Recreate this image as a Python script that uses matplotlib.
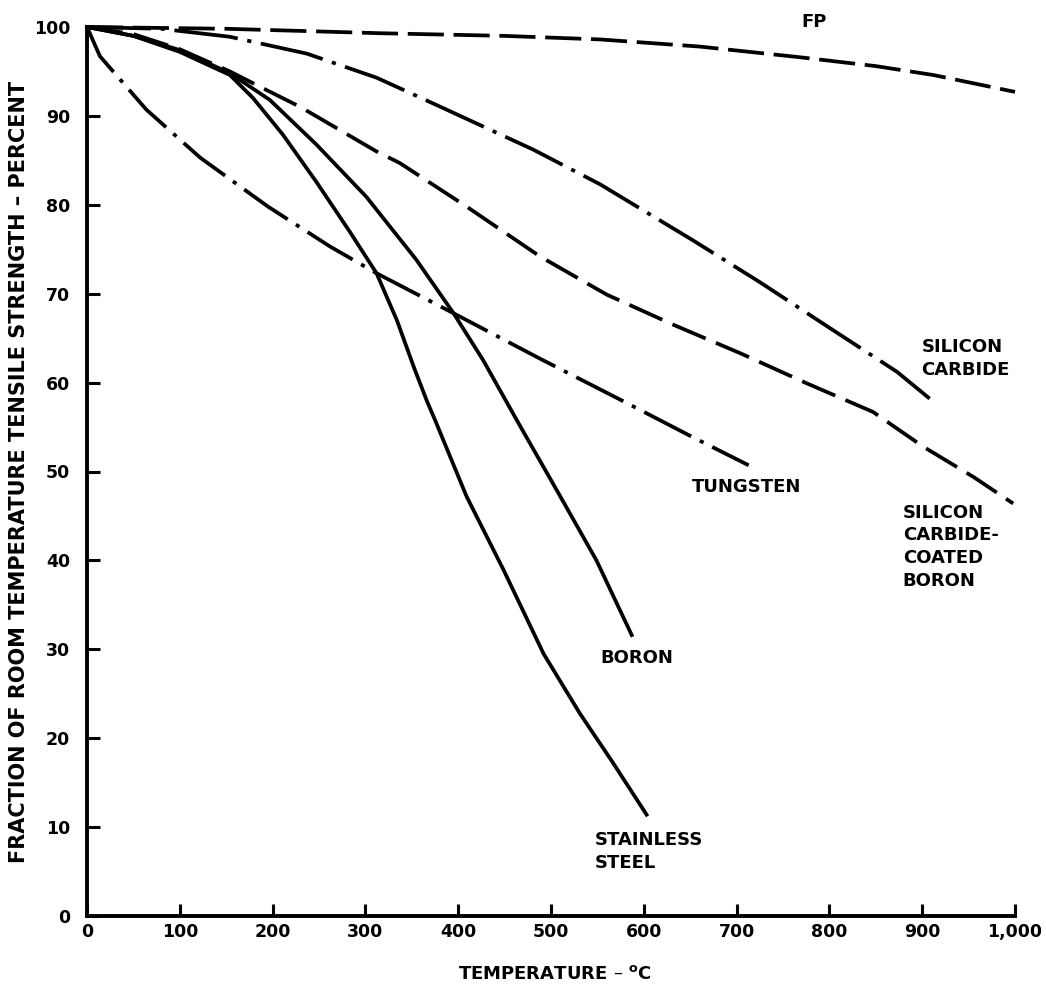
import matplotlib
matplotlib.use("Agg")
import matplotlib.pyplot as plt

plt.rcParams["lines.scale_dashes"] = False
plt.rcParams["font.family"] = ["DejaVu Sans"]

# temperature (deg C) / percent of room-temperature strength
fp_t = [0, 150, 316, 450, 553, 660, 768, 850, 912, 1000]
fp_v = [100, 99.8, 99.3, 99.0, 98.6, 97.8, 96.6, 95.6, 94.6, 92.7]

sic_t = [0, 80, 154, 237, 312, 373, 481, 553, 653, 725, 801, 873, 908]
sic_v = [100, 99.8, 98.9, 97.0, 94.3, 91.4, 86.2, 82.3, 76.0, 71.3, 66.1, 61.2, 58.2]

scb_t = [0, 50, 100, 154, 186, 230, 312, 337, 409, 488, 560, 632, 704, 776, 847, 901, 955,
         998]
scb_v = [100, 99.2, 97.5, 95.0, 93.3, 91.0, 86.0, 84.7, 79.8, 74.2, 69.9, 66.5, 63.3, 59.9,
         56.7, 52.8, 49.4, 46.4]

w_t = [0, 14, 64, 122, 195, 262, 312, 395, 488, 578, 652, 713]
w_v = [100, 96.7, 90.7, 85.3, 79.8, 75.3, 72.3, 67.8, 62.7, 57.9, 53.9, 50.7]

boron_t = [0, 50, 100, 154, 197, 247, 301, 355, 395, 427, 463, 510, 549, 587]
boron_v = [100, 99.0, 97.4, 94.8, 91.8, 86.8, 80.9, 73.8, 67.8, 62.5, 55.8, 47.2, 40.0, 31.6]

ss_t = [0, 50, 100, 154, 179, 211, 247, 283, 312, 334, 352, 366, 375, 409, 449, 492, 531,
        567, 603]
ss_v = [100, 99.0, 97.2, 94.6, 92.0, 87.9, 82.6, 77.0, 72.3, 67.0, 61.8, 58.0, 55.8, 47.2,
        38.9, 29.5, 22.8, 17.2, 11.4]

x_ticks = list(range(0, 1001, 100))
x_labels = ["0", "100", "200", "300", "400", "500", "600", "700", "800", "900", "1,000"]
y_ticks = list(range(0, 101, 10))

fig = plt.figure(figsize=(10.46, 9.93), dpi=100)
ax = fig.add_axes([87 / 1046, 77 / 993, 928 / 1046, 889 / 993])

lw = 2.7
ax.plot(fp_t, fp_v, color="black", lw=lw, ls=(0, (26, 7)), clip_on=False)
ax.plot(sic_t, sic_v, color="black", lw=lw, ls=(0, (46, 7, 3, 7)), clip_on=False)
ax.plot(scb_t, scb_v, color="black", lw=lw, ls=(0, (26, 8)), clip_on=False)
ax.plot(w_t, w_v, color="black", lw=lw, ls=(0, (38, 7, 3, 7)), clip_on=False)
ax.plot(boron_t, boron_v, color="black", lw=lw, clip_on=False)
ax.plot(ss_t, ss_v, color="black", lw=lw, clip_on=False)

lab = dict(fontsize=13, fontweight="bold", color="black", linespacing=1.35)
ax.text(784, 100.6, "FP", ha="center", va="center", **lab)
ax.text(899, 65.0, "SILICON\nCARBIDE", ha="left", va="top", **lab)
ax.text(652, 48.3, "TUNGSTEN", ha="left", va="center", **lab)
ax.text(879, 46.4, "SILICON\nCARBIDE-\nCOATED\nBORON", ha="left", va="top", **lab)
ax.text(553, 29.0, "BORON", ha="left", va="center", **lab)
ax.text(547, 9.6, "STAINLESS\nSTEEL", ha="left", va="top", **lab)

ax.set_xlim(0, 1000)
ax.set_ylim(0, 100)
ax.set_xticks(x_ticks)
ax.set_xticklabels(x_labels)
ax.set_yticks(y_ticks)
for s in ["top", "right"]:
    ax.spines[s].set_visible(False)
for s in ["left", "bottom"]:
    ax.spines[s].set_linewidth(2.8)
ax.tick_params(direction="in", length=9, width=2.2, labelsize=12.5)
ax.tick_params(axis="y", pad=12)
ax.tick_params(axis="x", pad=5)
for t in ax.get_xticklabels() + ax.get_yticklabels():
    t.set_fontweight("bold")

ax.set_ylabel("FRACTION OF ROOM TEMPERATURE TENSILE STRENGTH \u2013 PERCENT",
              fontsize=15, fontweight="bold")
ax.set_xlabel("TEMPERATURE \u2013 $^{\\mathbf{o}}$C", fontsize=13, fontweight="bold")
ax.yaxis.set_label_coords(-0.062, 0.5)
ax.xaxis.set_label_coords(0.504, -0.055)

fig.savefig("out.png", dpi=100)
